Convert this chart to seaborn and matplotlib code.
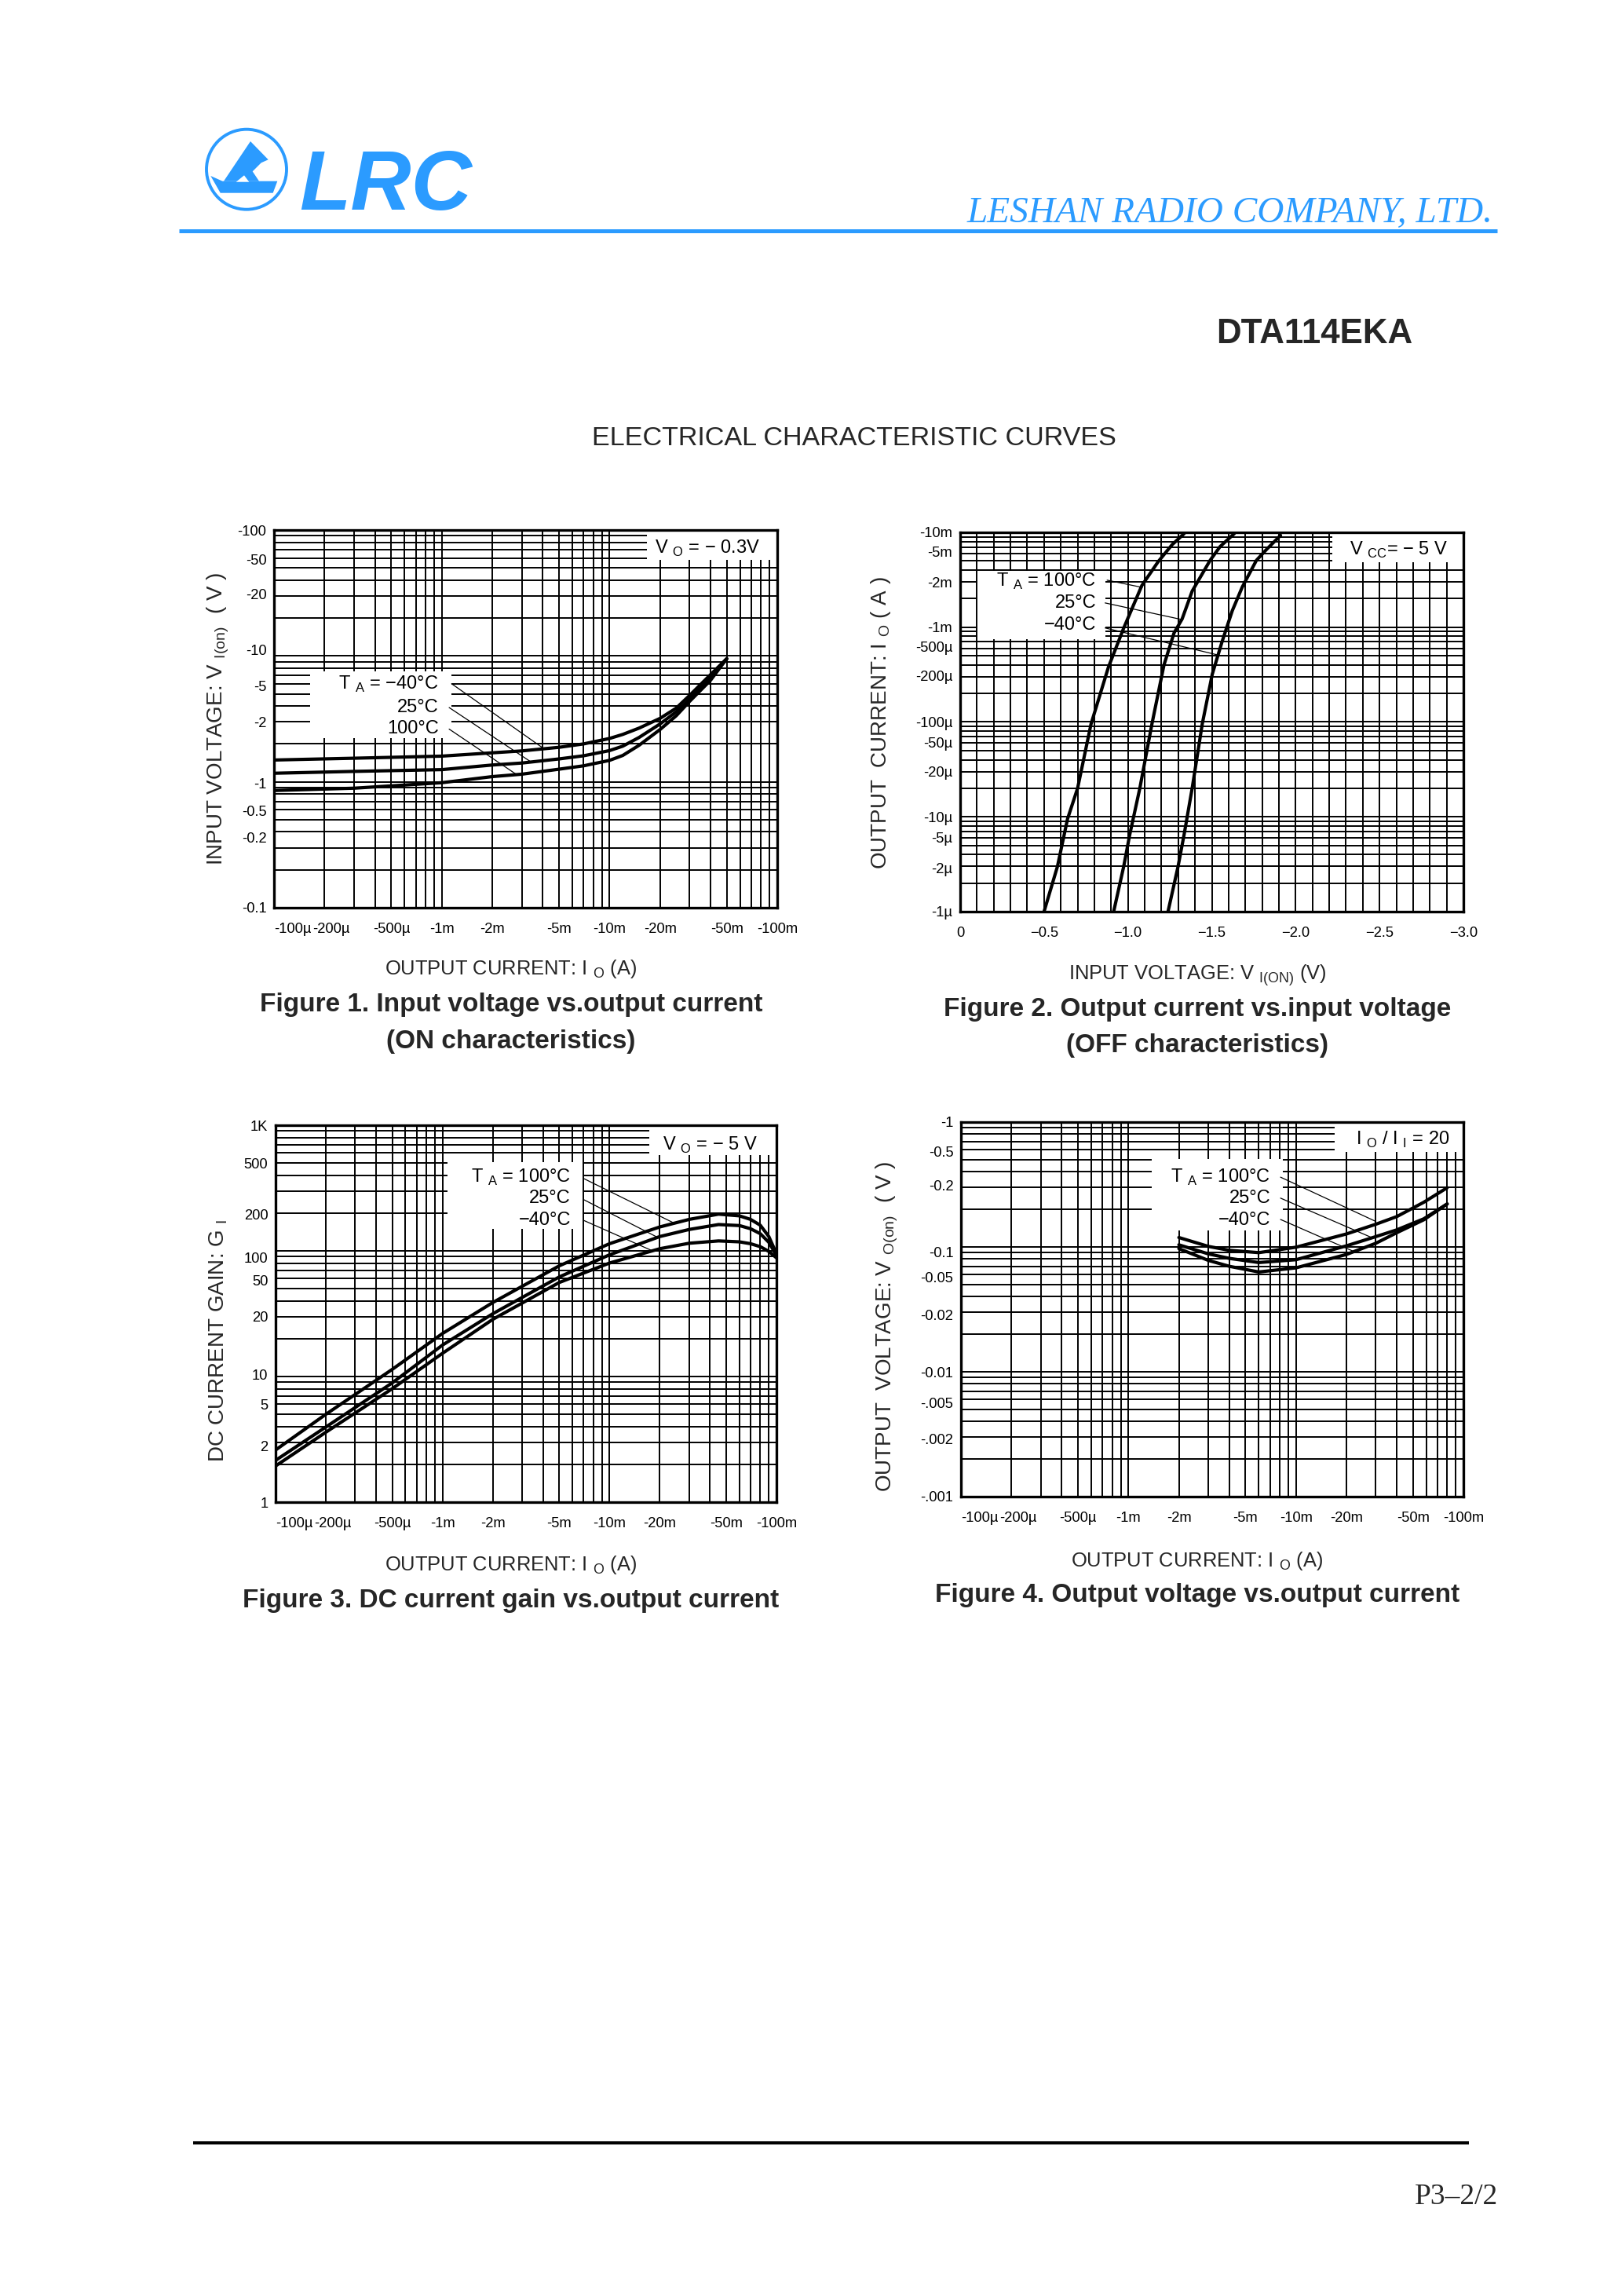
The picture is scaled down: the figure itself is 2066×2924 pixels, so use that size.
import numpy as np
import pandas as pd
import matplotlib
matplotlib.use('Agg')
import matplotlib.pyplot as plt
import seaborn as sns
from matplotlib.patches import Rectangle, Circle, Polygon
from matplotlib.ticker import FixedLocator, NullFormatter

# ---------------- data ----------------
# Figure 1: input voltage |V_I(on)| vs output current |I_O|
fig1_current = [1e-4, 3e-4, 1e-3, 2e-3, 3e-3, 5e-3, 7e-3, 1e-2, 1.2e-2, 1.5e-2, 2e-2, 2.5e-2, 3e-2, 4e-2, 5e-2]
fig1_vin_m40 = [1.49, 1.54, 1.60, 1.70, 1.76, 1.88, 2.0, 2.21, 2.38, 2.67, 3.19, 3.85, 4.85, 7.1, 9.5]
fig1_vin_25 = [1.17, 1.21, 1.25, 1.36, 1.41, 1.52, 1.61, 1.77, 1.92, 2.25, 2.88, 3.6, 4.5, 6.9, 9.5]
fig1_vin_100 = [0.853, 0.89, 0.984, 1.10, 1.15, 1.26, 1.34, 1.48, 1.62, 1.95, 2.60, 3.35, 4.35, 6.4, 9.5]

# Figure 2: output current |I_O| vs input voltage |V_I(off)|
fig2_v_100 = [0.50, 0.58, 0.64, 0.70, 0.78, 0.884, 0.975, 1.083, 1.18, 1.263, 1.335]
fig2_i_100 = [1e-6, 3e-6, 9.5e-6, 2e-5, 9.5e-5, 3.8e-4, 9.8e-4, 2.75e-3, 4.9e-3, 7.4e-3, 9.7e-3]
fig2_v_25 = [0.915, 0.975, 1.011, 1.071, 1.143, 1.215, 1.275, 1.323, 1.383, 1.49, 1.55, 1.634]
fig2_i_25 = [1e-6, 3e-6, 6.5e-6, 2e-5, 9.5e-5, 4e-4, 8.7e-4, 1.22e-3, 2.4e-3, 5.07e-3, 7.1e-3, 9.7e-3]
fig2_v_m40 = [1.239, 1.299, 1.335, 1.383, 1.443, 1.503, 1.562, 1.622, 1.682, 1.766, 1.826, 1.91]
fig2_i_m40 = [1e-6, 3e-6, 6.5e-6, 2e-5, 9.5e-5, 3.2e-4, 7.1e-4, 1.49e-3, 2.66e-3, 5.07e-3, 6.6e-3, 9.3e-3]

# Figure 3: DC current gain G_I vs output current
fig3_current = [1e-4, 2e-4, 5e-4, 1e-3, 2e-3, 5e-3, 1e-2, 2e-2, 3e-2, 4.5e-2, 6e-2, 7e-2, 8e-2, 9e-2, 1e-1]
fig3_gain_100 = [2.6, 5.0, 11.4, 22, 38.8, 76, 114, 155, 178, 196, 190, 178, 160, 130, 95]
fig3_gain_25 = [2.15, 3.96, 8.9, 17.8, 31.6, 62, 93, 130, 148, 162, 159, 150, 137, 117, 92]
fig3_gain_m40 = [1.94, 3.6, 8.0, 15.3, 28.5, 56, 80, 104, 115, 120, 118, 114, 108, 99, 88]

# Figure 4: output voltage |V_O(on)| vs output current
fig4_current = [2e-3, 3e-3, 4e-3, 6e-3, 1e-2, 2e-2, 3e-2, 4e-2, 5.8e-2, 8e-2]
fig4_vout_100 = [0.119, 0.101, 0.094, 0.090, 0.0995, 0.127, 0.152, 0.175, 0.228, 0.298]
fig4_vout_25 = [0.104, 0.088, 0.081, 0.075, 0.079, 0.102, 0.121, 0.137, 0.168, 0.221]
fig4_vout_m40 = [0.097, 0.078, 0.070, 0.063, 0.068, 0.087, 0.107, 0.130, 0.165, 0.221]

# tick labels (positions as printed on the sheet)
cur_ticks = [1e-4, 2.2e-4, 5e-4, 1e-3, 2e-3, 5e-3, 1e-2, 2e-2, 5e-2, 1e-1]
cur_labels = ['-100µ', '-200µ', '-500µ', '-1m', '-2m', '-5m', '-10m', '-20m', '-50m', '-100m']
fig1_yticks = [100, 58, 31, 11.2, 5.8, 3.0, 0.98, 0.59, 0.36, 0.1]
fig1_ylabels = ['-100', '-50', '-20', '-10', '-5', '-2', '-1', '-0.5', '-0.2', '-0.1']
fig2_xticks = [0, 0.5, 1.0, 1.5, 2.0, 2.5, 3.0]
fig2_xlabels = ['0', '−0.5', '−1.0', '−1.5', '−2.0', '−2.5', '−3.0']
fig2_yticks = [1e-2, 6.3e-3, 3.0e-3, 1e-3, 6.2e-4, 3.1e-4, 1e-4, 6.1e-5, 3.0e-5, 1e-5, 6.1e-6, 2.9e-6, 1e-6]
fig2_ylabels = ['-10m', '-5m', '-2m', '-1m', '-500µ', '-200µ', '-100µ', '-50µ', '-20µ', '-10µ', '-5µ', '-2µ', '-1µ']
fig3_yticks = [1000, 500, 194, 88, 58, 30, 10.3, 6.0, 2.8, 1]
fig3_ylabels = ['1K', '500', '200', '100', '50', '20', '10', '5', '2', '1']
fig4_yticks = [1, 0.58, 0.31, 0.091, 0.057, 0.0286, 0.00995, 0.00565, 0.00289, 0.001]
fig4_ylabels = ['-1', '-0.5', '-0.2', '-0.1', '-0.05', '-0.02', '-0.01', '-.005', '-.002', '-.001']

BLUE = '#2b9bff'
W, H, DPI = 2066, 2924, 200

sns.set_theme(style='white')
plt.rcParams['font.family'] = ['Liberation Sans', 'DejaVu Sans']
SERIF = ['Liberation Serif', 'DejaVu Serif']

fig = plt.figure(figsize=(W / DPI, H / DPI), dpi=DPI)
fig.patch.set_facecolor('white')

# page overlay in pixel coordinates
page = fig.add_axes([0, 0, 1, 1])
page.set_xlim(0, W)
page.set_ylim(H, 0)
page.axis('off')


def add_chart(l, r, t, b):
    return fig.add_axes([l / W, 1 - b / H, (r - l) / W, (b - t) / H])


def log_grid(lo, hi):
    vals = [m * 10.0 ** e for e in range(lo, hi) for m in range(1, 10)]
    return vals + [10.0 ** hi]


def frame(x, y, name):
    return pd.DataFrame({'x': x, 'y': y, 'temp': name})


def draw_curves(ax, frames):
    df = pd.concat(frames, ignore_index=True)
    sns.lineplot(data=df, x='x', y='y', units='temp', estimator=None, sort=False,
                 color='black', lw=1.5, ax=ax, legend=False)


def prepare(ax, xlim, ylim, xgrid, ygrid, xticks, xlabels, yticks, ylabels, xlog=True):
    if xlog:
        ax.set_xscale('log')
    ax.set_yscale('log')
    ax.set_xlim(*xlim)
    ax.set_ylim(*ylim)
    ax.xaxis.set_minor_locator(FixedLocator(xgrid))
    ax.yaxis.set_minor_locator(FixedLocator(ygrid))
    ax.xaxis.set_minor_formatter(NullFormatter())
    ax.yaxis.set_minor_formatter(NullFormatter())
    ax.xaxis.remove_overlapping_locs = False
    ax.yaxis.remove_overlapping_locs = False
    ax.set_xticks(xticks, xlabels)
    ax.set_yticks(yticks, ylabels)
    ax.grid(False, which='major')
    ax.grid(True, which='minor', color='black', lw=0.7)
    ax.set_axisbelow(True)
    ax.tick_params(which='both', length=0)
    ax.tick_params(axis='x', pad=7, labelsize=6.6, colors='black')
    ax.tick_params(axis='y', pad=3.5, labelsize=6.6, colors='black')
    for s in ax.spines.values():
        s.set_visible(True)
        s.set_color('black')
        s.set_linewidth(1.2)
    ax.set_xlabel('')
    ax.set_ylabel('')


def white_box(ax, x0, x1, y0, y1):
    ax.add_patch(Rectangle((x0, y0), x1 - x0, y1 - y0, transform=ax.transAxes,
                           facecolor='white', edgecolor='none', zorder=1.8))


def box_text(ax, x, y, s, ha='right'):
    ax.text(x, y, s, transform=ax.transAxes, ha=ha, va='center', fontsize=8.5,
            color='black', zorder=3)


def leader(ax, xy, start):
    ax.annotate('', xy=xy, xycoords='data', xytext=start, textcoords='axes fraction',
                arrowprops=dict(arrowstyle='-', lw=0.45, color='black',
                                shrinkA=0, shrinkB=0), zorder=3)


def sub(s):
    return '$_{\\mathregular{' + s + '}}$'


# ---------------- Figure 1 ----------------
ax1 = add_chart(349, 990, 675, 1156)
draw_curves(ax1, [frame(fig1_current, fig1_vin_m40, '-40'),
                  frame(fig1_current, fig1_vin_25, '25'),
                  frame(fig1_current, fig1_vin_100, '100')])
prepare(ax1, (1e-4, 1e-1), (0.1, 100), log_grid(-4, -1), log_grid(-1, 2),
        cur_ticks, cur_labels, fig1_yticks, fig1_ylabels)
white_box(ax1, 0.741, 1.0, 0.922, 1.0)
box_text(ax1, 0.861, 0.952, 'V ' + sub('O') + ' = − 0.3V', ha='center')
white_box(ax1, 0.072, 0.353, 0.449, 0.626)
box_text(ax1, 0.327, 0.591, 'T ' + sub('A') + ' = −40°C')
box_text(ax1, 0.327, 0.530, '25°C')
box_text(ax1, 0.327, 0.473, '100°C')
leader(ax1, (4e-3, 1.86), (0.353, 0.593))
leader(ax1, (3.4e-3, 1.44), (0.348, 0.530))
leader(ax1, (2.8e-3, 1.14), (0.348, 0.473))

# ---------------- Figure 2 ----------------
ax2 = add_chart(1223, 1864, 678, 1161)
draw_curves(ax2, [frame(fig2_v_100, fig2_i_100, '100'),
                  frame(fig2_v_25, fig2_i_25, '25'),
                  frame(fig2_v_m40, fig2_i_m40, '-40')])
prepare(ax2, (0, 3.0), (1e-6, 1e-2), list(np.round(np.arange(0, 3.01, 0.1), 2)),
        log_grid(-6, -2), fig2_xticks, fig2_xlabels, fig2_yticks, fig2_ylabels, xlog=False)
white_box(ax2, 0.740, 1.0, 0.921, 1.0)
box_text(ax2, 0.872, 0.954, 'V ' + sub('CC') + '= − 5 V', ha='center')
white_box(ax2, 0.034, 0.289, 0.718, 0.899)
box_text(ax2, 0.270, 0.870, 'T ' + sub('A') + ' = 100°C')
box_text(ax2, 0.270, 0.814, '25°C')
box_text(ax2, 0.270, 0.756, '−40°C')
leader(ax2, (1.085, 2.63e-3), (0.292, 0.874))
leader(ax2, (1.325, 1.2e-3), (0.288, 0.814))
leader(ax2, (1.535, 5.1e-4), (0.288, 0.748))

# ---------------- Figure 3 ----------------
ax3 = add_chart(351, 989, 1433, 1913)
draw_curves(ax3, [frame(fig3_current, fig3_gain_100, '100'),
                  frame(fig3_current, fig3_gain_25, '25'),
                  frame(fig3_current, fig3_gain_m40, '-40')])
prepare(ax3, (1e-4, 1e-1), (1, 1000), log_grid(-4, -1), log_grid(0, 3),
        cur_ticks, cur_labels, fig3_yticks, fig3_ylabels)
white_box(ax3, 0.746, 1.0, 0.921, 1.0)
box_text(ax3, 0.867, 0.948, 'V ' + sub('O') + ' = − 5 V', ha='center')
white_box(ax3, 0.344, 0.613, 0.724, 0.903)
box_text(ax3, 0.589, 0.8625, 'T ' + sub('A') + ' = 100°C')
box_text(ax3, 0.589, 0.806, '25°C')
box_text(ax3, 0.589, 0.747, '−40°C')
leader(ax3, (2.4e-2, 168), (0.616, 0.858))
leader(ax3, (1.9e-2, 130), (0.616, 0.802))
leader(ax3, (1.78e-2, 101), (0.616, 0.747))

# ---------------- Figure 4 ----------------
ax4 = add_chart(1224, 1864, 1429, 1906)
draw_curves(ax4, [frame(fig4_current, fig4_vout_100, '100'),
                  frame(fig4_current, fig4_vout_25, '25'),
                  frame(fig4_current, fig4_vout_m40, '-40')])
prepare(ax4, (1e-4, 1e-1), (1e-3, 1), log_grid(-4, -1), log_grid(-3, 0),
        cur_ticks, cur_labels, fig4_yticks, fig4_ylabels)
white_box(ax4, 0.744, 1.0, 0.920, 1.0)
box_text(ax4, 0.880, 0.954, 'I ' + sub('O') + ' / I ' + sub('I') + ' = 20', ha='center')
white_box(ax4, 0.379, 0.640, 0.711, 0.901)
box_text(ax4, 0.616, 0.853, 'T ' + sub('A') + ' = 100°C')
box_text(ax4, 0.616, 0.797, '25°C')
box_text(ax4, 0.616, 0.737, '−40°C')
leader(ax4, (3.0e-2, 0.160), (0.636, 0.853))
leader(ax4, (2.87e-2, 0.118), (0.636, 0.797))
leader(ax4, (2.19e-2, 0.0926), (0.636, 0.740))

for ax in (ax1, ax3, ax4):
    ax.get_xticklabels()[0].set_ha('left')

# ---------------- page texts ----------------
# logo
page.add_patch(Circle((314, 215.7), 51, facecolor='none', edgecolor=BLUE, lw=1.4))
page.add_patch(Polygon([(285, 230.7), (319, 180), (341.7, 203.3), (332.7, 207.3),
                        (321.7, 218.3), (330, 230.7)], closed=True, facecolor=BLUE, edgecolor='none'))
page.add_patch(Polygon([(268.3, 224), (283.3, 230.7), (353.3, 230.7), (347.7, 245.7),
                        (280.7, 245.7)], closed=True, facecolor=BLUE, edgecolor='none'))
page.add_patch(Polygon([(300.7, 231.7), (311, 223.3), (317.3, 231.7)], closed=True,
                       facecolor='white', edgecolor='none'))
page.text(381, 267, 'LRC', ha='left', va='baseline', fontsize=38.5, weight='bold',
          style='italic', color=BLUE)
page.text(1902, 283, 'LESHAN RADIO COMPANY, LTD.', ha='right', va='baseline', fontsize=17,
          style='italic', family=SERIF, color=BLUE)
page.plot([228, 1907], [294, 294], color=BLUE, lw=1.8, solid_capstyle='butt')

page.text(1799, 436.7, 'DTA114EKA', ha='right', va='baseline', fontsize=15.8, weight='bold')
page.text(1088, 566.7, 'ELECTRICAL CHARACTERISTIC CURVES', ha='center', va='baseline',
          fontsize=12.3)

# axis labels and captions
page.text(651, 1241, 'OUTPUT CURRENT: I ' + sub('O') + ' (A)', ha='center', va='baseline', fontsize=9.2)
page.text(651, 1288, 'Figure 1. Input voltage vs.output current', ha='center', va='baseline',
          fontsize=12, weight='bold')
page.text(651, 1335, '(ON characteristics)', ha='center', va='baseline', fontsize=12, weight='bold')
page.text(278, 916, 'INPUT VOLTAGE: V ' + sub('I(on)') + '  ( V )', ha='center', va='center',
          rotation=90, fontsize=10)

page.text(1525, 1247, 'INPUT VOLTAGE: V ' + sub('I(ON)') + ' (V)', ha='center', va='baseline', fontsize=9.2)
page.text(1525, 1294, 'Figure 2. Output current vs.input voltage', ha='center', va='baseline',
          fontsize=12, weight='bold')
page.text(1525, 1340, '(OFF characteristics)', ha='center', va='baseline', fontsize=12, weight='bold')
page.text(1122, 921, 'OUTPUT  CURRENT: I ' + sub('O') + ' ( A )', ha='center', va='center',
          rotation=90, fontsize=10)

page.text(651, 2000, 'OUTPUT CURRENT: I ' + sub('O') + ' (A)', ha='center', va='baseline', fontsize=9.2)
page.text(651, 2047, 'Figure 3. DC current gain vs.output current', ha='center', va='baseline',
          fontsize=12, weight='bold')
page.text(278, 1707, 'DC CURRENT GAIN: G ' + sub('I'), ha='center', va='center',
          rotation=90, fontsize=10)

page.text(1525, 1995, 'OUTPUT CURRENT: I ' + sub('O') + ' (A)', ha='center', va='baseline', fontsize=9.2)
page.text(1525, 2040, 'Figure 4. Output voltage vs.output current', ha='center', va='baseline',
          fontsize=12, weight='bold')
page.text(1130, 1689, 'OUTPUT  VOLTAGE: V ' + sub('O(on)') + '  ( V )', ha='center', va='center',
          rotation=90, fontsize=10)

# footer
page.plot([246, 1871], [2728.7, 2728.7], color='black', lw=1.45, solid_capstyle='butt')
page.text(1801.7, 2806.7, 'P3–2/2', ha='left', va='baseline', fontsize=13.5, family=SERIF)

fig.savefig('out.png', dpi=DPI, facecolor='white')
